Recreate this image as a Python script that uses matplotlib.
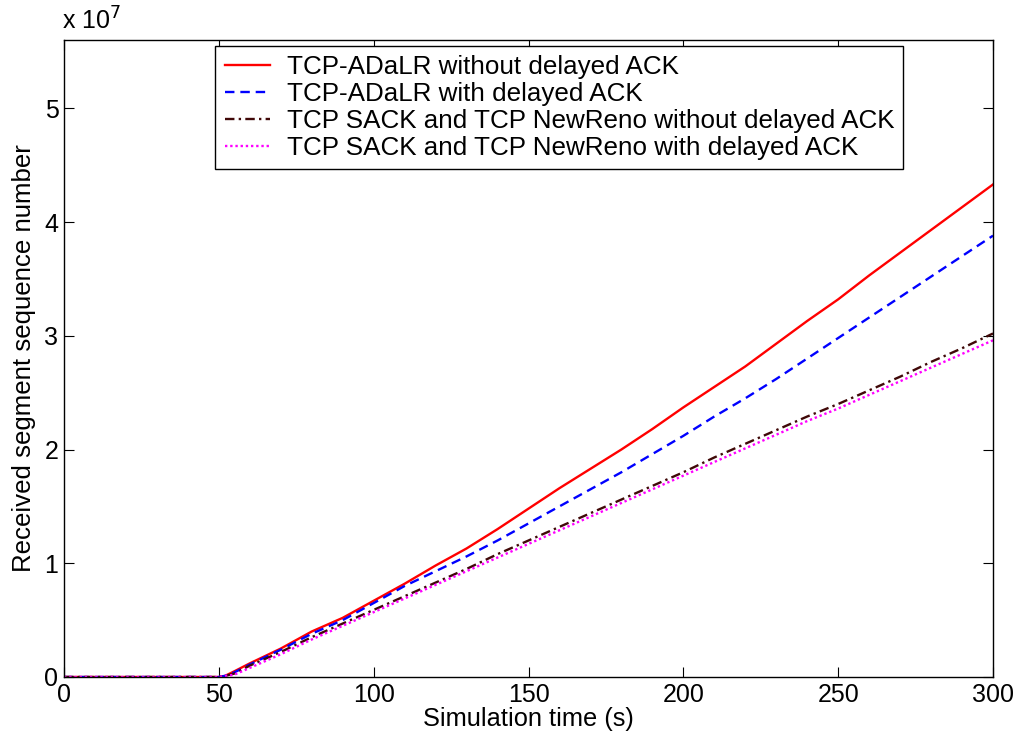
import matplotlib
matplotlib.use("Agg")
import matplotlib.pyplot as plt
from matplotlib.ticker import FuncFormatter

plt.rcParams['font.family'] = ['Liberation Sans', 'DejaVu Sans']

# Time axis (s)
t = [0, 50, 52, 55, 60, 70, 80, 90, 100, 110, 120, 130, 140, 150, 160, 170, 180,
     190, 200, 210, 220, 230, 240, 250, 260, 270, 280, 290, 300]

# Received segment sequence number (units of 1e7)
adalr_nodelay = [0, 0, 0.01, 0.05, 0.12, 0.25, 0.40, 0.52, 0.67, 0.82, 0.98, 1.13, 1.30,
                 1.48, 1.66, 1.83, 2.00, 2.18, 2.37, 2.55, 2.73, 2.93, 3.13, 3.32, 3.53,
                 3.73, 3.93, 4.13, 4.33]
adalr_delay = [0, 0, 0.01, 0.04, 0.11, 0.24, 0.38, 0.50, 0.65, 0.80, 0.93, 1.06, 1.20,
               1.35, 1.50, 1.65, 1.80, 1.96, 2.12, 2.29, 2.45, 2.62, 2.80, 2.98, 3.16,
               3.34, 3.52, 3.70, 3.88]
sack_nodelay = [0, 0, 0.01, 0.03, 0.10, 0.22, 0.35, 0.47, 0.59, 0.71, 0.83, 0.95, 1.08,
                1.20, 1.32, 1.44, 1.56, 1.68, 1.80, 1.93, 2.05, 2.17, 2.29, 2.40, 2.52,
                2.64, 2.77, 2.89, 3.02]
sack_delay = [0, 0, 0.01, 0.02, 0.08, 0.20, 0.33, 0.45, 0.57, 0.69, 0.81, 0.93, 1.05,
              1.17, 1.29, 1.41, 1.53, 1.65, 1.77, 1.89, 2.01, 2.13, 2.25, 2.36, 2.48,
              2.60, 2.72, 2.84, 2.96]
scale = 1e7

labels = ["TCP-ADaLR without delayed ACK",
          "TCP-ADaLR with delayed ACK",
          "TCP SACK and TCP NewReno without delayed ACK",
          "TCP SACK and TCP NewReno with delayed ACK"]
xticks = [0, 50, 100, 150, 200, 250, 300]
yticks = [0, 1, 2, 3, 4, 5]

fig = plt.figure(figsize=(10.21, 7.42), dpi=100)
ax = fig.add_axes([64/1021, 65/742, 929/1021, 637/742])

ax.plot(t, [v*scale for v in adalr_nodelay], color='#ff0000', lw=1.7, ls='-', label=labels[0])
ax.plot(t, [v*scale for v in adalr_delay], color='#0000ff', lw=1.7, ls=(0, (4, 2.5)), label=labels[1])
ax.plot(t, [v*scale for v in sack_nodelay], color='#400808', lw=1.7, ls=(0, (4, 1.8, 1, 1.8)), label=labels[2])
ax.plot(t, [v*scale for v in sack_delay], color='#ff00ff', lw=1.7, ls=(0, (1, 1.2)), label=labels[3])

ax.set_xlim(0, 300)
ax.set_ylim(0, 5.6e7)
ax.set_xticks(xticks)
ax.set_yticks([v*scale for v in yticks])
ax.yaxis.set_major_formatter(FuncFormatter(lambda v, p: f"{v/scale:g}"))
ax.tick_params(direction='in', length=7, width=0.8, top=True, right=True,
               labelsize=18, pad=4)
for s in ax.spines.values():
    s.set_linewidth(1.0)

ax.text(-0.002, 1.008, r'x 10$^{7}$', transform=ax.transAxes, fontsize=18,
        ha='left', va='bottom')
ax.set_xlabel("Simulation time (s)", fontsize=18.3, labelpad=0)
ax.set_ylabel("Received segment sequence number", fontsize=18.6, labelpad=6)

leg = ax.legend(loc='upper left', bbox_to_anchor=(0.163, 0.991), borderaxespad=0,
                fontsize=18.7, fancybox=False, edgecolor='black', framealpha=1,
                handlelength=1.75, labelspacing=0.12, handletextpad=0.65,
                borderpad=0.35)
leg.get_frame().set_linewidth(1.0)

fig.savefig("out.png", dpi=100)
